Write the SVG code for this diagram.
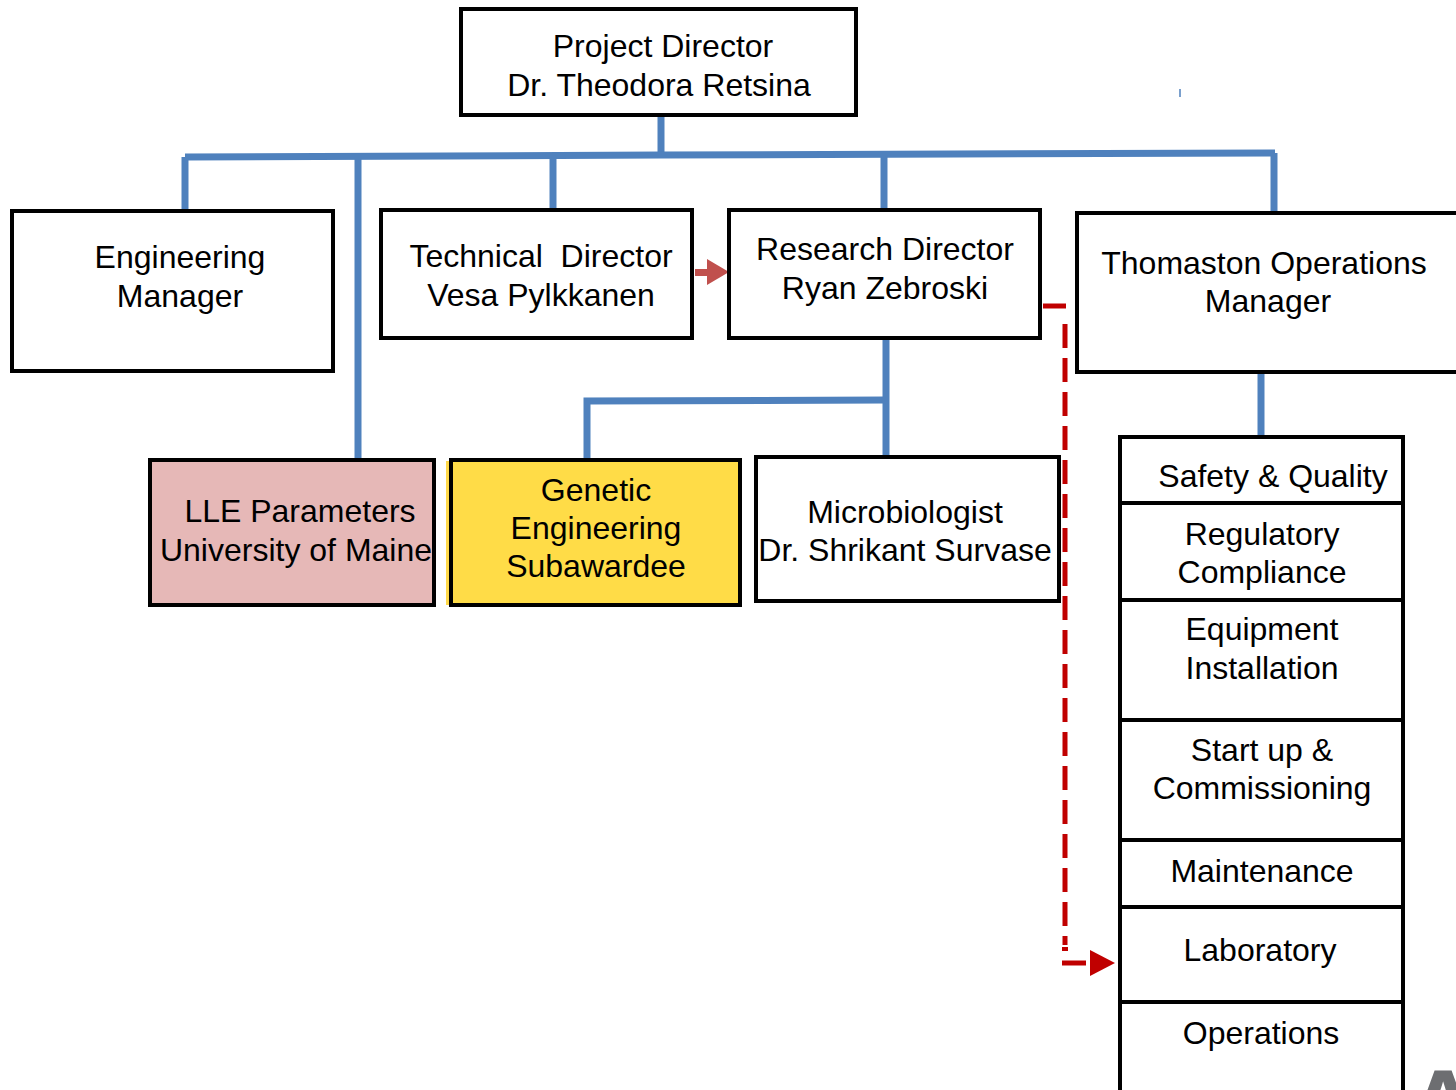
<svg xmlns="http://www.w3.org/2000/svg" width="1456" height="1090" viewBox="0 0 1456 1090">
<style>
.box{fill:#fff;stroke:#000;stroke-width:4}
.t{font-family:"Liberation Sans",Arial,sans-serif;font-size:32px;fill:#000;text-anchor:middle}
.blue{stroke:#4F81BD;stroke-width:7;fill:none}
.reddash{stroke:#C00000;stroke-width:5;fill:none;stroke-dasharray:24 10}
</style>
<rect width="1456" height="1090" fill="#fff"/>
<g id="connectors">
<polyline class="blue" points="661,115 661,155"/>
<polyline class="blue" points="185,157 661,155 1275,153"/>
<polyline class="blue" points="185,157 185,213"/>
<polyline class="blue" points="358,157 358,460"/>
<polyline class="blue" points="553,156 553,212"/>
<polyline class="blue" points="884,155 884,211"/>
<polyline class="blue" points="1274,153 1274,215"/>
<polyline class="blue" points="886,338 886,456"/>
<polyline class="blue" points="587,461 587,401 886,400"/>
<polyline class="blue" points="1261,372 1261,438"/>
<line x1="1180" y1="89" x2="1180" y2="97" stroke="#4F81BD" stroke-width="1.5"/>
<rect x="695" y="269" width="14" height="7" fill="#C0504D"/>
<polygon points="707,259 729,272 707,285" fill="#C0504D"/>
<polyline class="reddash" points="1043,306 1066,306"/>
<polyline class="reddash" points="1065,324 1065,945"/>
<line x1="1062" y1="949" x2="1068" y2="949" stroke="#C00000" stroke-width="4"/>
<line x1="1062" y1="963" x2="1086" y2="963" stroke="#C00000" stroke-width="5"/>
<polygon points="1090,950 1115,963 1090,976" fill="#C00000"/>
</g>
<g id="project-director">
<rect class="box" x="461" y="9" width="395" height="106"/>
<text class="t" x="663" y="57">Project Director</text>
<text class="t" x="659" y="96">Dr. Theodora Retsina</text>
</g>
<g id="engineering-manager">
<rect class="box" x="12" y="211" width="321" height="160"/>
<text class="t" x="180" y="268">Engineering</text>
<text class="t" x="180" y="307">Manager</text>
</g>
<g id="technical-director">
<rect class="box" x="381" y="210" width="311" height="128"/>
<text class="t" x="541" y="267" xml:space="preserve">Technical  Director</text>
<text class="t" x="541" y="306">Vesa Pylkkanen</text>
</g>
<g id="research-director">
<rect class="box" x="729" y="210" width="311" height="128"/>
<text class="t" x="885" y="260">Research Director</text>
<text class="t" x="885" y="299">Ryan Zebroski</text>
</g>
<g id="thomaston-operations-manager">
<rect class="box" x="1077" y="213" width="385" height="159"/>
<text class="t" x="1264" y="274">Thomaston Operations</text>
<text class="t" x="1268" y="312">Manager</text>
</g>
<g id="lle-parameters">
<rect class="box" x="150" y="460" width="284" height="145" style="fill:#E6B8B7"/>
<text class="t" x="300" y="522">LLE Parameters</text>
<text class="t" x="296" y="561">University of Maine</text>
</g>
<g id="genetic-engineering">
<rect x="446" y="461" width="4" height="144" fill="#FFD94A"/>
<rect class="box" x="451" y="460" width="289" height="145" style="fill:#FFDC47"/>
<text class="t" x="596" y="501">Genetic</text>
<text class="t" x="596" y="539">Engineering</text>
<text class="t" x="596" y="577">Subawardee</text>
</g>
<g id="microbiologist">
<rect class="box" x="756" y="457" width="303" height="144"/>
<text class="t" x="905" y="523">Microbiologist</text>
<text class="t" x="905" y="561">Dr. Shrikant Survase</text>
</g>
<g id="safety-quality">
<rect class="box" x="1120" y="437" width="283" height="66"/>
<text class="t" x="1273" y="487">Safety &amp; Quality</text>
</g>
<g id="regulatory-compliance">
<rect class="box" x="1120" y="503" width="283" height="97"/>
<text class="t" x="1262" y="545">Regulatory</text>
<text class="t" x="1262" y="583">Compliance</text>
</g>
<g id="equipment-installation">
<rect class="box" x="1120" y="600" width="283" height="120"/>
<text class="t" x="1262" y="640">Equipment</text>
<text class="t" x="1262" y="679">Installation</text>
</g>
<g id="startup-commissioning">
<rect class="box" x="1120" y="720" width="283" height="120"/>
<text class="t" x="1262" y="761">Start up &amp;</text>
<text class="t" x="1262" y="799">Commissioning</text>
</g>
<g id="maintenance">
<rect class="box" x="1120" y="840" width="283" height="67"/>
<text class="t" x="1262" y="882">Maintenance</text>
</g>
<g id="laboratory">
<rect class="box" x="1120" y="907" width="283" height="95"/>
<text class="t" x="1260" y="961">Laboratory</text>
</g>
<g id="operations">
<rect class="box" x="1120" y="1002" width="283" height="100"/>
<text class="t" x="1261" y="1044">Operations</text>
</g>
<text x="1407" y="1140" font-family="Liberation Sans,Arial,sans-serif" font-size="100" font-weight="bold" fill="#6D6E71">A</text>
</svg>
